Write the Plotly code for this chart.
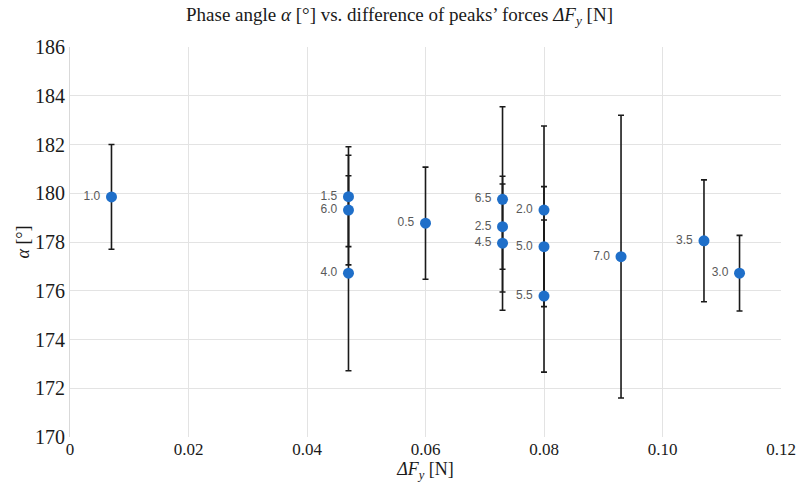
import plotly.graph_objects as go

labels = ["1.0", "1.5", "6.0", "4.0", "0.5", "6.5", "2.5", "4.5", "2.0", "5.0", "5.5", "7.0", "3.5", "3.0"]
delta_f = [0.007, 0.047, 0.047, 0.047, 0.060, 0.073, 0.073, 0.073, 0.080, 0.080, 0.080, 0.093, 0.107, 0.113]
alpha = [179.85, 179.86, 179.31, 176.72, 178.77, 179.75, 178.63, 177.95, 179.31, 177.81, 175.78, 177.40, 178.05, 176.72]
alpha_err = [2.15, 2.05, 2.25, 4.0, 2.3, 3.8, 1.75, 2.75, 3.45, 2.46, 3.12, 5.8, 2.5, 1.55]

x_ticks = [0, 0.02, 0.04, 0.06, 0.08, 0.10, 0.12]
x_tick_text = ["0", "0.02", "0.04", "0.06", "0.08", "0.10", "0.12"]
y_ticks = [170, 172, 174, 176, 178, 180, 182, 184, 186]

serif = "Liberation Serif, DejaVu Serif, serif"

fig = go.Figure()
fig.add_trace(go.Scatter(
    x=delta_f, y=alpha, mode="markers+text",
    text=[t + " " for t in labels], textposition="middle left",
    textfont=dict(family="Liberation Sans, Arial, sans-serif", size=12, color="#595959"),
    marker=dict(color="#1F6FC9", size=11),
    error_y=dict(type="data", array=alpha_err, visible=True, color="#1a1a1a", thickness=1.6, width=3),
    showlegend=False,
))

fig.update_layout(
    width=799, height=492,
    paper_bgcolor="white", plot_bgcolor="white",
    margin=dict(l=70, r=18, t=47, b=55, autoexpand=False),
    title=dict(
        text="Phase angle <i>α</i> [°] vs. difference of peaks’ forces <i>ΔF<sub>y</sub></i> [N]",
        x=0.5, xanchor="center", y=0.985, yanchor="top",
        font=dict(family=serif, size=19, color="#1a1a1a"),
    ),
    xaxis=dict(
        range=[0, 0.12], tickvals=x_ticks, ticktext=x_tick_text,
        showgrid=True, gridcolor="#E3E3E3", gridwidth=1, automargin=False,
        zeroline=False, showline=False, ticks="",
        tickfont=dict(family=serif, size=17, color="#1a1a1a"),
        title=dict(text="<i>ΔF<sub>y</sub></i> [N]", font=dict(family=serif, size=18, color="#1a1a1a"), standoff=2),
    ),
    yaxis=dict(
        range=[170, 186], tickvals=y_ticks, automargin=False,
        showgrid=True, gridcolor="#E3E3E3", gridwidth=1,
        zeroline=False, showline=True, linecolor="#D9D9D9", ticks="",
        tickfont=dict(family=serif, size=20, color="#1a1a1a"),
        title=dict(text="<i>α</i> [°]", font=dict(family=serif, size=18, color="#1a1a1a"), standoff=0),
    ),
)

fig.write_html("out.html", config={"displayModeBar": False},
               post_script="document.body.style.margin='0';")
